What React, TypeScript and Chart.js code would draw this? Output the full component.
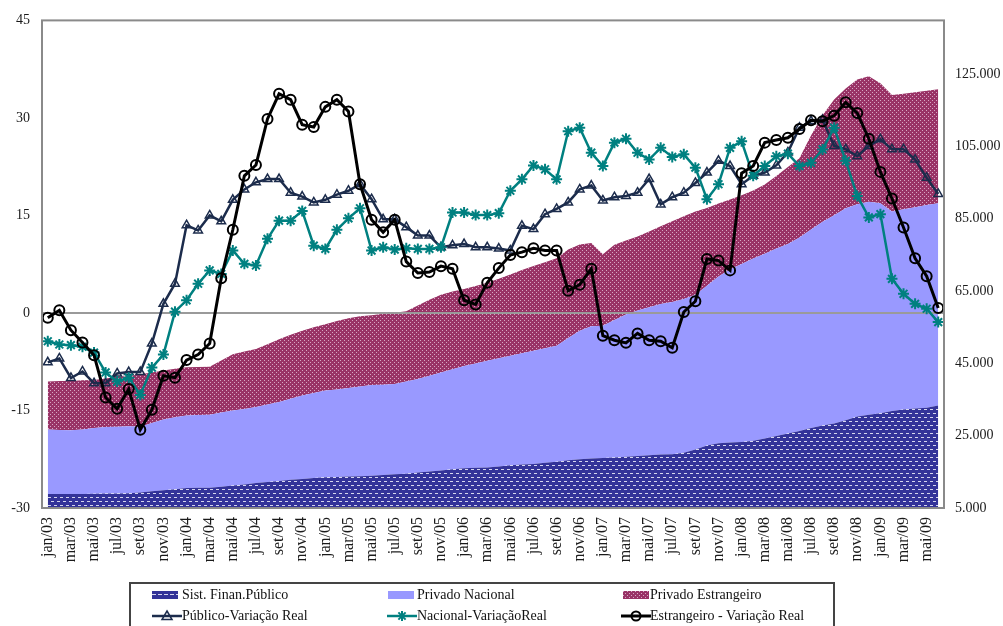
import React, { useEffect, useRef } from "react";
import { Chart, registerables } from "chart.js";

Chart.register(...registerables);

// ---------- data ----------
const months = ["jan", "fev", "mar", "abr", "mai", "jun", "jul", "ago", "set", "out", "nov", "dez"];
const years = ["03", "04", "05", "06", "07", "08", "09"];
const lastMonthCount = 78; // jan/03 .. jun/09

const categories: string[] = [];
for (const y of years) for (const m of months) if (categories.length < lastMonthCount) categories.push(m + "/" + y);

// stacked areas (right axis)
const sistFinanPublico = [
  8850, 8900, 8850, 8900, 8950, 9000, 9000, 9100, 9300, 9600, 9900, 10200,
  10500, 10600, 10600, 10900, 11200, 11500, 11900, 12200, 12500, 12800, 13000, 13300,
  13500, 13600, 13700, 13800, 13900, 14100, 14300, 14500, 14800, 15100, 15400, 15700,
  16000, 16100, 16200, 16500, 16800, 17000, 17200, 17500, 17800, 18200, 18500, 18700,
  18800, 19000, 19200, 19400, 19600, 19800, 19900, 20300, 21200, 22300, 22900, 23100,
  23250, 23600, 24250, 24900, 25600, 26300, 27100, 27800, 28400, 29300, 30300, 30800,
  31200, 31800, 32250, 32500, 32700, 33350,
];
const privadoNacional = [
  17850, 17700, 17650, 17800, 18150, 18400, 18500, 18500, 18200, 18900, 19600, 19900,
  20100, 20100, 20200, 20500, 20800, 20900, 21000, 21400, 21800, 22400, 23100, 23500,
  24000, 24200, 24500, 24800, 25100, 25000, 25000, 25500, 25900, 26500, 27100, 27700,
  28300, 28900, 29500, 29900, 30300, 30800, 31300, 31700, 32100, 33800, 35500, 36600,
  36600, 38000, 39300, 40200, 40900, 41600, 42100, 42500, 42800, 44200, 46100, 47900,
  49250, 50400, 51050, 51900, 52400, 53500, 54900, 56400, 57600, 58600, 58700, 58900,
  58100, 55200, 55350, 55700, 56100, 55950,
];
const privadoEstrangeiro = [
  13300, 13500, 13600, 13600, 13300, 13400, 13800, 13900, 14500, 14000, 13500, 13400,
  13300, 13300, 13300, 14400, 15500, 15900, 16100, 16700, 17400, 17700, 17900, 18200,
  18300, 18900, 19300, 19400, 19300, 19600, 19700, 19400, 20300, 21000, 21500, 21500,
  21300, 21400, 21600, 22000, 22500, 23000, 23400, 23800, 24200, 24500, 23900, 23000,
  19800, 20800, 20500, 20500, 21000, 21500, 22300, 22900, 23000, 21500, 20200, 19300,
  19000, 18800, 19200, 20000, 21300, 21900, 26000, 29400, 32000, 33100, 34500, 34700,
  33200, 32200, 32000, 31800, 31600, 31500,
];

// real variation lines (left axis)
const publicoVariacao = [
  -7.6, -7.0, -10.0, -9.0, -10.8, -10.8, -9.3, -9.1, -9.1, -4.7, 1.4, 4.5,
  13.5, 12.7, 15.0, 14.1, 17.4, 19.0, 20.1, 20.6, 20.6, 18.5, 17.9, 17.0,
  17.4, 18.2, 18.8, 19.8, 17.5, 14.4, 14.4, 13.2, 11.9, 11.9, 10.1, 10.4,
  10.6, 10.1, 10.1, 9.9, 9.6, 13.4, 12.9, 15.2, 16.0, 17.0, 19.0, 19.6,
  17.3, 17.8, 18.0, 18.5, 20.6, 16.7, 17.8, 18.5, 20.0, 21.6, 23.4, 22.6,
  19.8, 21.1, 21.6, 22.7, 24.7, 28.5, 29.5, 29.7, 25.7, 25.2, 24.1, 25.7,
  26.7, 25.2, 25.2, 23.6, 20.8, 18.3,
];
const nacionalVariacao = [
  -4.35, -4.85, -4.95, -5.2, -6.1, -9.15, -10.55, -9.95, -12.6, -8.4, -6.4, 0.2,
  1.95, 4.5, 6.55, 6.0, 9.6, 7.55, 7.3, 11.4, 14.2, 14.2, 15.7, 10.35,
  9.85, 12.8, 14.55, 16.1, 9.6, 10.1, 9.75, 9.95, 9.85, 9.85, 10.1, 15.45,
  15.45, 15.05, 15.05, 15.35, 18.8, 20.55, 22.7, 22.1, 20.55, 27.95, 28.5, 24.65,
  22.6, 26.2, 26.8, 24.65, 23.6, 25.4, 24.0, 24.4, 22.35, 17.5, 19.8, 25.4,
  26.4, 21.1, 22.6, 24.1, 24.5, 22.6, 23.1, 25.15, 28.5, 23.4, 18.0, 14.7,
  15.2, 5.25, 2.95, 1.4, 0.65, -1.4,
];
const estrangeiroVariacao = [
  -0.75, 0.4, -2.65, -4.55, -6.5, -13.0, -14.75, -11.7, -17.95, -14.9, -9.65, -9.95,
  -7.25, -6.4, -4.7, 5.35, 12.8, 21.1, 22.75, 29.85, 33.7, 32.8, 28.95, 28.6,
  31.7, 32.8, 31.0, 19.8, 14.35, 12.4, 14.35, 7.9, 6.15, 6.3, 7.2, 6.8,
  1.95, 1.3, 4.65, 6.9, 8.9, 9.35, 9.95, 9.6, 9.6, 3.4, 4.35, 6.8,
  -3.5, -4.2, -4.6, -3.15, -4.2, -4.35, -5.35, 0.15, 1.8, 8.3, 8.05, 6.55,
  21.5, 22.6, 26.2, 26.6, 26.95, 28.3, 29.65, 29.5, 30.35, 32.4, 30.75, 26.8,
  21.7, 17.6, 13.15, 8.4, 5.65, 0.75,
];

const leftTicks = [-30, -15, 0, 15, 30, 45];
const rightTicks = [5000, 25000, 45000, 65000, 85000, 105000, 125000];

// ---------- styles ----------
const NAVY = "#333399";
const LAVENDER = "#9999FF";
const MAROON = "#993366";
const LINE_NAVY = "#1C2C4C";
const TEAL = "#008080";
const FONT = "'Liberation Serif', 'DejaVu Serif', serif";

function makePattern(kind: "navy" | "maroon"): CanvasPattern | string {
  const c = document.createElement("canvas");
  const ctx = c.getContext("2d");
  if (!ctx) return kind === "navy" ? NAVY : MAROON;
  if (kind === "navy") {
    c.width = 6;
    c.height = 8;
    ctx.fillStyle = NAVY;
    ctx.fillRect(0, 0, 6, 8);
    ctx.fillStyle = "#d6d6ee";
    ctx.fillRect(0, 1, 3, 1);
    ctx.fillRect(3, 5, 3, 1);
  } else {
    c.width = 4;
    c.height = 4;
    ctx.fillStyle = MAROON;
    ctx.fillRect(0, 0, 4, 4);
    ctx.fillStyle = "#d7a6c4";
    ctx.fillRect(0, 0, 1, 1);
    ctx.fillRect(2, 2, 1, 1);
  }
  return ctx.createPattern(c, "repeat") || (kind === "navy" ? NAVY : MAROON);
}

const fmtThousands = (v: number) => String(v).replace(/\B(?=(\d{3})+(?!\d))/g, ".");

const framePlugin = {
  id: "frame",
  afterDatasetDraw(chart: any, args: any) {
    if (args.index !== 0) return;
    const { ctx, chartArea } = chart;
    const y0 = chart.scales.y.getPixelForValue(0);
    ctx.save();
    ctx.strokeStyle = "#9a9a9a";
    ctx.lineWidth = 2;
    ctx.beginPath();
    ctx.moveTo(chartArea.left, y0);
    ctx.lineTo(chartArea.right, y0);
    ctx.stroke();
    ctx.restore();
  },
  afterDraw(chart: any) {
    const { ctx, chartArea } = chart;
    ctx.save();
    ctx.strokeStyle = "#8a8a8a";
    ctx.lineWidth = 2;
    ctx.strokeRect(chartArea.left, chartArea.top, chartArea.right - chartArea.left, chartArea.bottom - chartArea.top);
    ctx.restore();
  },
};

function ChartCanvas() {
  const ref = useRef<HTMLCanvasElement | null>(null);
  useEffect(() => {
    if (!ref.current) return;
    const navyPat = makePattern("navy");
    const maroonPat = makePattern("maroon");
    const areaCommon = {
      type: "line" as const,
      yAxisID: "y2",
      pointRadius: 0,
      borderWidth: 0,
      borderColor: "rgba(0,0,0,0)",
      tension: 0,
    };
    const chart = new Chart(ref.current, {
      type: "line",
      data: {
        labels: categories,
        datasets: [
          { ...areaCommon, label: "Sist. Finan.Público", data: sistFinanPublico, backgroundColor: navyPat as any, fill: "origin", order: 10 },
          { ...areaCommon, label: "Privado Nacional", data: privadoNacional, backgroundColor: LAVENDER, fill: "-1", order: 11 },
          { ...areaCommon, label: "Privado Estrangeiro", data: privadoEstrangeiro, backgroundColor: maroonPat as any, fill: "-1", order: 12 },
          {
            label: "Público-Variação Real",
            data: publicoVariacao,
            yAxisID: "y",
            borderColor: LINE_NAVY,
            borderWidth: 2.5,
            pointStyle: "triangle",
            pointRadius: 5,
            pointBorderWidth: 1.5,
            pointBorderColor: LINE_NAVY,
            pointBackgroundColor: "rgba(255,255,255,0)",
            fill: false,
            order: 2,
          },
          {
            label: "Nacional-VariaçãoReal",
            data: nacionalVariacao,
            yAxisID: "y",
            borderColor: TEAL,
            borderWidth: 2.5,
            pointStyle: "star",
            pointRadius: 5.5,
            pointBorderWidth: 2,
            pointBorderColor: TEAL,
            pointBackgroundColor: TEAL,
            fill: false,
            order: 1,
          },
          {
            label: "Estrangeiro - Variação Real",
            data: estrangeiroVariacao,
            yAxisID: "y",
            borderColor: "#000",
            borderWidth: 3,
            pointStyle: "circle",
            pointRadius: 5,
            pointBorderWidth: 2,
            pointBorderColor: "#000",
            pointBackgroundColor: "rgba(255,255,255,0)",
            fill: false,
            order: 0,
          },
        ],
      },
      options: {
        responsive: false,
        animation: false,
        devicePixelRatio: 1,
        layout: { padding: { top: 18, left: 0, right: 0, bottom: 0 } },
        plugins: { legend: { display: false }, tooltip: { enabled: false } },
        elements: { line: { tension: 0 } },
        scales: {
          x: {
            type: "category",
            offset: true,
            grid: { display: false, drawTicks: false },
            border: { display: false },
            ticks: {
              autoSkip: false,
              maxRotation: 90,
              minRotation: 90,
              padding: 9,
              color: "#1a1a1a",
              font: { family: FONT, size: 16 },
              callback: (_v: any, i: number) => (i % 2 === 0 ? categories[i] : ""),
            },
            afterFit: (s: any) => {
              s.height = 118;
            },
          },
          y: {
            position: "left",
            min: leftTicks[0],
            max: leftTicks[leftTicks.length - 1],
            grid: { display: false, drawTicks: false },
            border: { display: false },
            afterBuildTicks: (s: any) => {
              s.ticks = leftTicks.map((v) => ({ value: v }));
            },
            ticks: {
              padding: 12,
              color: "#1a1a1a",
              font: { family: FONT, size: 14 },
              callback: (v: any) => String(v),
            },
            afterFit: (s: any) => {
              s.width = 42;
            },
          },
          y2: {
            position: "right",
            stacked: true,
            min: 5000,
            max: 139860,
            grid: { display: false, drawTicks: false },
            border: { display: false },
            afterBuildTicks: (s: any) => {
              s.ticks = rightTicks.map((v) => ({ value: v }));
            },
            ticks: {
              padding: 11,
              color: "#1a1a1a",
              font: { family: FONT, size: 14 },
              callback: (v: any) => fmtThousands(Number(v)),
            },
            afterFit: (s: any) => {
              s.width = 59;
            },
          },
        },
      } as any,
      plugins: [framePlugin],
    });
    return () => chart.destroy();
  }, []);
  return <canvas ref={ref} width={1003} height={626} style={{ position: "absolute", left: 0, top: 0, width: 1003, height: 626 }} />;
}

const textStyle: React.CSSProperties = {
  position: "absolute",
  fontFamily: FONT,
  fontSize: 14,
  lineHeight: "16px",
  color: "#111",
  whiteSpace: "nowrap",
};

function Swatch({ left, kind }: { left: number; kind: "navy" | "lav" | "maroon" }) {
  return (
    <svg width={26} height={8} style={{ position: "absolute", left, top: 591 }}>
      <defs>
        <pattern id="lgNavy" width="6" height="8" patternUnits="userSpaceOnUse">
          <rect width="6" height="8" fill={NAVY} />
          <rect x="0" y="3" width="4" height="1" fill="#d6d6ee" />
        </pattern>
        <pattern id="lgMaroon" width="4" height="4" patternUnits="userSpaceOnUse">
          <rect width="4" height="4" fill={MAROON} />
          <rect x="0" y="0" width="1" height="1" fill="#d7a6c4" />
          <rect x="2" y="2" width="1" height="1" fill="#d7a6c4" />
        </pattern>
      </defs>
      <rect width="26" height="8" fill={kind === "navy" ? "url(#lgNavy)" : kind === "lav" ? LAVENDER : "url(#lgMaroon)"} />
    </svg>
  );
}

function LineMarker({ left, kind }: { left: number; kind: "tri" | "star" | "circle" }) {
  const color = kind === "tri" ? LINE_NAVY : kind === "star" ? TEAL : "#000";
  const cx = 15;
  const cy = 7;
  let marker: React.ReactNode = null;
  if (kind === "tri") {
    marker = <polygon points={`${cx},${cy - 5} ${cx + 5},${cy + 3.5} ${cx - 5},${cy + 3.5}`} fill="none" stroke={color} strokeWidth={1.5} />;
  } else if (kind === "star") {
    marker = (
      <g stroke={color} strokeWidth={2}>
        <line x1={cx - 5} y1={cy} x2={cx + 5} y2={cy} />
        <line x1={cx} y1={cy - 5} x2={cx} y2={cy + 5} />
        <line x1={cx - 3.6} y1={cy - 3.6} x2={cx + 3.6} y2={cy + 3.6} />
        <line x1={cx - 3.6} y1={cy + 3.6} x2={cx + 3.6} y2={cy - 3.6} />
      </g>
    );
  } else {
    marker = <circle cx={cx} cy={cy} r={4.5} fill="none" stroke={color} strokeWidth={2} />;
  }
  return (
    <svg width={30} height={14} style={{ position: "absolute", left, top: 609 }}>
      <line x1={0} y1={cy} x2={30} y2={cy} stroke={color} strokeWidth={kind === "circle" ? 3 : 2.5} />
      {marker}
    </svg>
  );
}

export default function App() {
  return (
    <div style={{ position: "absolute", left: 0, top: 0, width: 1003, height: 626, overflow: "hidden", background: "#fff" }}>
      <ChartCanvas />
      <div style={{ position: "absolute", left: 129, top: 582, width: 702, height: 60, border: "2px solid #444", boxSizing: "content-box" }} />
      <Swatch left={152} kind="navy" />
      <div style={{ ...textStyle, left: 182, top: 587 }}>Sist. Finan.Público</div>
      <Swatch left={388} kind="lav" />
      <div style={{ ...textStyle, left: 417, top: 587 }}>Privado Nacional</div>
      <Swatch left={623} kind="maroon" />
      <div style={{ ...textStyle, left: 650, top: 587 }}>Privado Estrangeiro</div>
      <LineMarker left={152} kind="tri" />
      <div style={{ ...textStyle, left: 182, top: 608 }}>Público-Variação Real</div>
      <LineMarker left={387} kind="star" />
      <div style={{ ...textStyle, left: 417, top: 608 }}>Nacional-VariaçãoReal</div>
      <LineMarker left={621} kind="circle" />
      <div style={{ ...textStyle, left: 650, top: 608 }}>Estrangeiro - Variação Real</div>
    </div>
  );
}
